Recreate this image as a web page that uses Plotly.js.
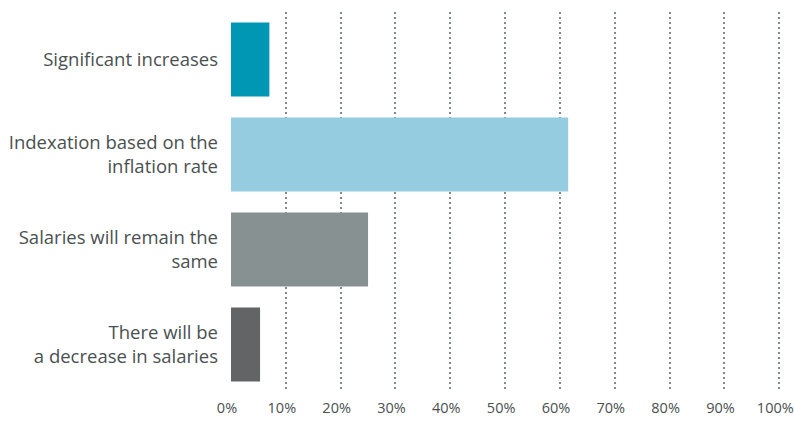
<!DOCTYPE html>
<html>
<head>
<meta charset="utf-8">
<script src="https://cdn.plot.ly/plotly-3.0.1.min.js"></script>
<style>html,body{margin:0;padding:0;background:#fff;}#chart{width:794px;height:432px;}</style>
</head>
<body>
<div id="chart"></div>
<script>
const categories = [
  "Significant increases",
  "Indexation based on the<br>inflation rate",
  "Salaries will remain the<br>same",
  "There will be<br>a decrease in salaries"
];
const values = [7, 61.5, 25, 5.3];
const barColors = ["#0097b5", "#95cce0", "#879191", "#636466"];
const xTickVals = [0,10,20,30,40,50,60,70,80,90,100];
const xTickText = ["0%","10%","20%","30%","40%","50%","60%","70%","80%","90%","100%"];

const trace = {
  type: "bar",
  orientation: "h",
  y: categories,
  x: values,
  marker: {color: barColors},
  hoverinfo: "none"
};

const layout = {
  width: 794, height: 432,
  margin: {l: 231, r: 12, t: 12, b: 40},
  paper_bgcolor: "#fff", plot_bgcolor: "#fff",
  showlegend: false,
  bargap: 0.22,
  font: {family: "'Open Sans', Lato, sans-serif", color: "#4a5050"},
  xaxis: {
    range: [0, 100.5],
    tickvals: xTickVals, ticktext: xTickText,
    showgrid: true, gridcolor: "#808c8c", gridwidth: 2, griddash: "2px,3px",
    zeroline: false, showline: false,
    ticks: "", ticklabelstandoff: 5, ticklabelshift: -4,
    ticklabeloverflow: "allow",
    tickfont: {size: 14.5, color: "#4a5050"},
    fixedrange: true
  },
  yaxis: {
    autorange: "reversed",
    showgrid: false, zeroline: false, showline: false,
    ticks: "", ticklabelstandoff: 12,
    tickfont: {size: 18.5, color: "#4a5050"},
    fixedrange: true
  }
};

Plotly.newPlot("chart", [trace], layout, {displayModeBar: false, staticPlot: true});
</script>
</body>
</html>
